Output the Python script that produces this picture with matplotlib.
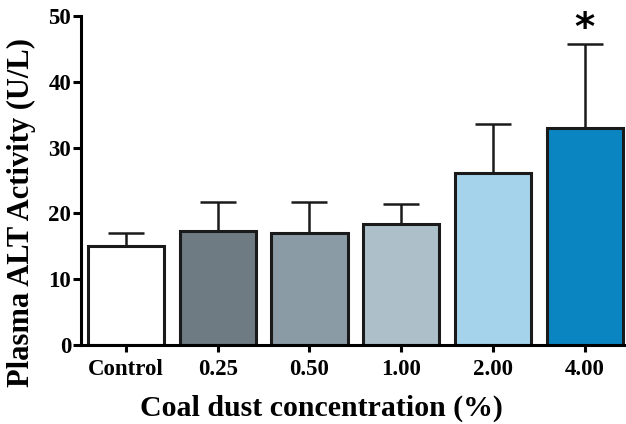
import matplotlib
matplotlib.use("Agg")
import matplotlib.pyplot as plt
import numpy as np

groups = ["Control", "0.25", "0.50", "1.00", "2.00", "4.00"]
means = [15.0, 17.4, 17.0, 18.4, 26.1, 33.0]
errs = [2.0, 4.4, 4.8, 3.1, 7.5, 12.7]
colors = ["#ffffff", "#6e7b83", "#8b9ba5", "#adc0ca", "#a5d3ec", "#0a85c2"]

plt.rcParams['font.family'] = 'Liberation Serif'
plt.rcParams['font.weight'] = 'bold'

fig = plt.figure(figsize=(6.26, 4.24), dpi=100)
ax = fig.add_axes([0.1294, 0.1863, 0.8706, 0.776])

x = np.arange(len(groups))
ax.bar(x, means, width=0.83, color=colors, edgecolor="#1a1a1a", linewidth=2.2, zorder=2)
ax.errorbar(x, means, yerr=[np.zeros(len(errs)), errs], fmt="none", ecolor="#1a1a1a",
            elinewidth=1.8, capsize=13, capthick=1.8, zorder=1)
# significance marker
ax.text(x[-1], means[-1] + errs[-1] + 2.3, "*", ha="center", va="center", fontsize=28,
        fontweight="bold", family="DejaVu Sans")

ax.set_xlim(-0.49, 5.45)
ax.set_ylim(0, 50)
ax.set_yticks([0, 10, 20, 30, 40, 50])
ax.set_xticks(x)
ax.set_xticklabels(groups)
for s in ["top", "right"]:
    ax.spines[s].set_visible(False)
for s in ["left", "bottom"]:
    ax.spines[s].set_linewidth(2.2)
ax.tick_params(axis="y", width=2.2, length=6, labelsize=16.5, pad=1)
ax.tick_params(axis="x", width=2.2, length=5, labelsize=16.5, pad=5)
ax.set_xlabel("Coal dust concentration (%)", fontsize=21.5, fontweight="bold")
ax.set_ylabel("Plasma ALT Activity (U/L)", fontsize=22, fontweight="bold")
ax.xaxis.set_label_coords(0.442, -0.15)
ax.yaxis.set_label_coords(-0.082, 0.404)

fig.savefig("out.png", dpi=100)
